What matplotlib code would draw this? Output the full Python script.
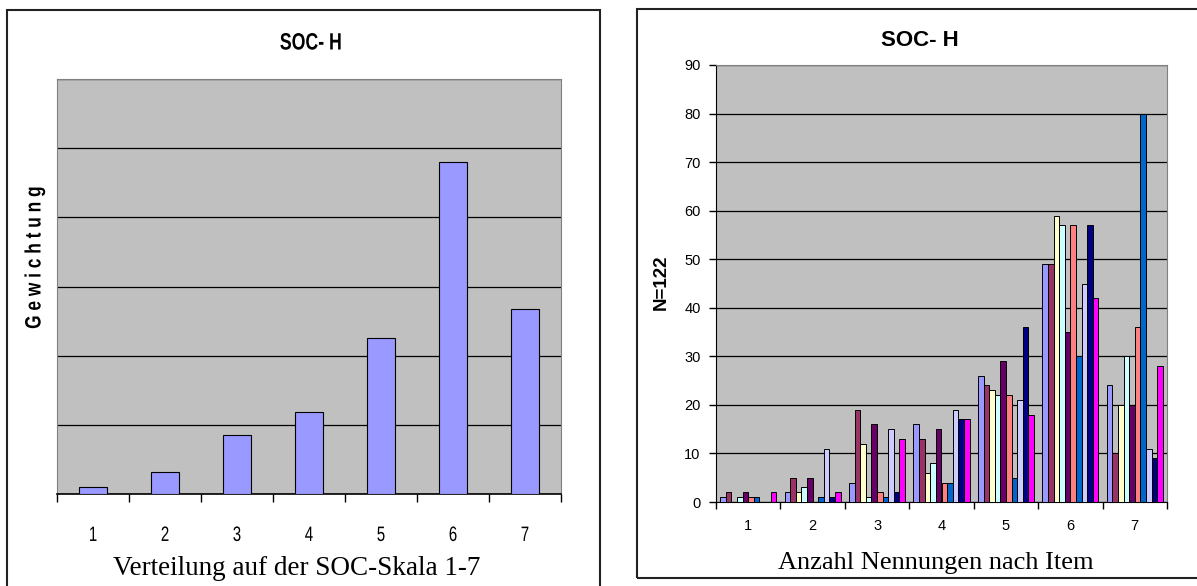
import matplotlib
matplotlib.use("Agg")
import numpy as np
from matplotlib import pyplot as plt
from matplotlib.patches import Rectangle
from matplotlib.patheffects import AbstractPathEffect
from matplotlib.transforms import Affine2D

# SOC-Skala 1-7
categories = ["1", "2", "3", "4", "5", "6", "7"]

# left chart: weighted sum per scale value
gewichtung = [10, 32, 85, 119, 226, 480, 268]

# right chart: number of answers per item (N=122 each)
item1 = [1, 2, 4, 16, 26, 49, 24]
item2 = [2, 5, 19, 13, 24, 49, 10]
item3 = [0, 2, 12, 6, 23, 59, 20]
item4 = [1, 3, 1, 8, 22, 57, 30]
item5 = [2, 5, 16, 15, 29, 35, 20]
item6 = [1, 0, 2, 4, 22, 57, 36]
item7 = [1, 1, 1, 4, 5, 30, 80]
item8 = [0, 11, 15, 19, 21, 45, 11]
item9 = [0, 1, 2, 17, 36, 57, 9]
item10 = [2, 2, 13, 17, 18, 42, 28]

items = [item1, item2, item3, item4, item5, item6, item7, item8, item9, item10]
item_colors = ["#9999FF", "#993366", "#FFFFCC", "#CCFFFF", "#660066",
               "#FF8080", "#0066CC", "#CCCCFF", "#000080", "#FF00FF"]

plt.rcParams["font.family"] = ["Liberation Sans", "DejaVu Sans"]


class Squeeze(AbstractPathEffect):
    # squash glyphs around their own centre (left chart text looks stretched)
    def __init__(self, sx=1.0, sy=1.0):
        super().__init__()
        self.sx, self.sy = sx, sy

    def draw_path(self, renderer, gc, tpath, affine, rgbFace=None):
        ext = tpath.get_extents(affine)
        cx, cy = (ext.x0 + ext.x1) / 2, (ext.y0 + ext.y1) / 2
        aff = affine + Affine2D().translate(-cx, -cy).scale(self.sx, self.sy).translate(cx, cy)
        renderer.draw_path(gc, tpath, aff, rgbFace)


W, H = 1197, 586
fig = plt.figure(figsize=(W / 100, H / 100), dpi=100)
fig.patch.set_facecolor("white")

def fx(x):
    return x / W

def fy(y):
    return 1 - y / H

# chart frames
fig.patches.append(Rectangle((fx(7), fy(600)), fx(600) - fx(7), fy(10) - fy(600),
                             transform=fig.transFigure, fill=False, ec="#222222", lw=1.5))
fig.patches.append(Rectangle((fx(637), fy(578)), fx(1210) - fx(637), fy(9) - fy(578),
                             transform=fig.transFigure, fill=False, ec="#222222", lw=1.5))

x = np.arange(len(categories))

# ---------- left chart ----------
ax1 = fig.add_axes([fx(57), fy(494), fx(561) - fx(57), fy(79) - fy(494)])
ax1.set_facecolor("#C0C0C0")
ax1.bar(x, gewichtung, width=0.4, color="#9999FF", edgecolor="black", linewidth=0.8, zorder=3)
ax1.set_xlim(-0.5, 6.5)
ax1.set_ylim(0, 600)
ax1.set_yticks(np.arange(0, 601, 100))
ax1.yaxis.grid(True, color="black", lw=0.9)
ax1.set_axisbelow(True)
ax1.tick_params(axis="y", left=False, labelleft=False)
ax1.set_xticks(np.arange(-0.5, 7, 1))
ax1.set_xticklabels([])
ax1.set_xticks(x, minor=True)
ax1.set_xticklabels(categories, minor=True, fontsize=15,
                    path_effects=[Squeeze(sx=0.72)])
ax1.tick_params(axis="x", which="major", direction="out", length=6, width=1)
ax1.tick_params(axis="x", which="minor", length=0, pad=23)
for s in ["left", "right", "top"]:
    ax1.spines[s].set_color("#808080")
ax1.spines["bottom"].set_color("black")
ax1.spines["bottom"].set_linewidth(1.2)

fig.text(fx(311), fy(43), "SOC- H", ha="center", va="center", fontsize=17,
         fontweight="bold", path_effects=[Squeeze(sx=0.75)])
fig.text(fx(35), fy(258), "G e w i c h t u n g", ha="center", va="center", rotation=90,
         fontsize=16, fontweight="bold", path_effects=[Squeeze(sy=0.78)])
fig.text(fx(297), fy(575), "Verteilung auf der SOC-Skala 1-7", ha="center", va="baseline",
         fontsize=19.5, fontfamily="Liberation Serif")

# ---------- right chart ----------
ax2 = fig.add_axes([fx(716), fy(502), fx(1167) - fx(716), fy(65) - fy(502)])
ax2.set_facecolor("#C0C0C0")
w = 1 / 11.5
for i, (vals, col) in enumerate(zip(items, item_colors)):
    ax2.bar(x + (i - 4.5) * w, vals, width=w, color=col, edgecolor="black",
            linewidth=0.7, zorder=3)
ax2.set_xlim(-0.5, 6.5)
ax2.set_ylim(0, 90)
ax2.set_yticks(np.arange(0, 91, 10))
ax2.yaxis.grid(True, color="black", lw=0.9)
ax2.set_axisbelow(True)
ax2.tick_params(axis="y", direction="out", length=5, width=1, labelsize=10.5, pad=6)
ax2.set_xticks(np.arange(-0.5, 7, 1))
ax2.set_xticklabels([])
ax2.set_xticks(x, minor=True)
ax2.set_xticklabels(categories, minor=True, fontsize=10.5)
ax2.tick_params(axis="x", which="major", direction="out", length=5, width=1)
ax2.tick_params(axis="x", which="minor", length=0, pad=12)
for s in ["right", "top"]:
    ax2.spines[s].set_color("#808080")
ax2.spines["left"].set_color("black")
ax2.spines["bottom"].set_color("black")

fig.text(fx(920), fy(40), "SOC- H", ha="center", va="center", fontsize=16,
         fontweight="bold")
fig.text(fx(661), fy(282), "N=122", ha="center", va="center", rotation=90,
         fontsize=13.5, fontweight="bold")
fig.text(fx(936), fy(569), "Anzahl Nennungen nach Item", ha="center", va="baseline",
         fontsize=19, fontfamily="Liberation Serif")

fig.savefig("out.png", dpi=100)
